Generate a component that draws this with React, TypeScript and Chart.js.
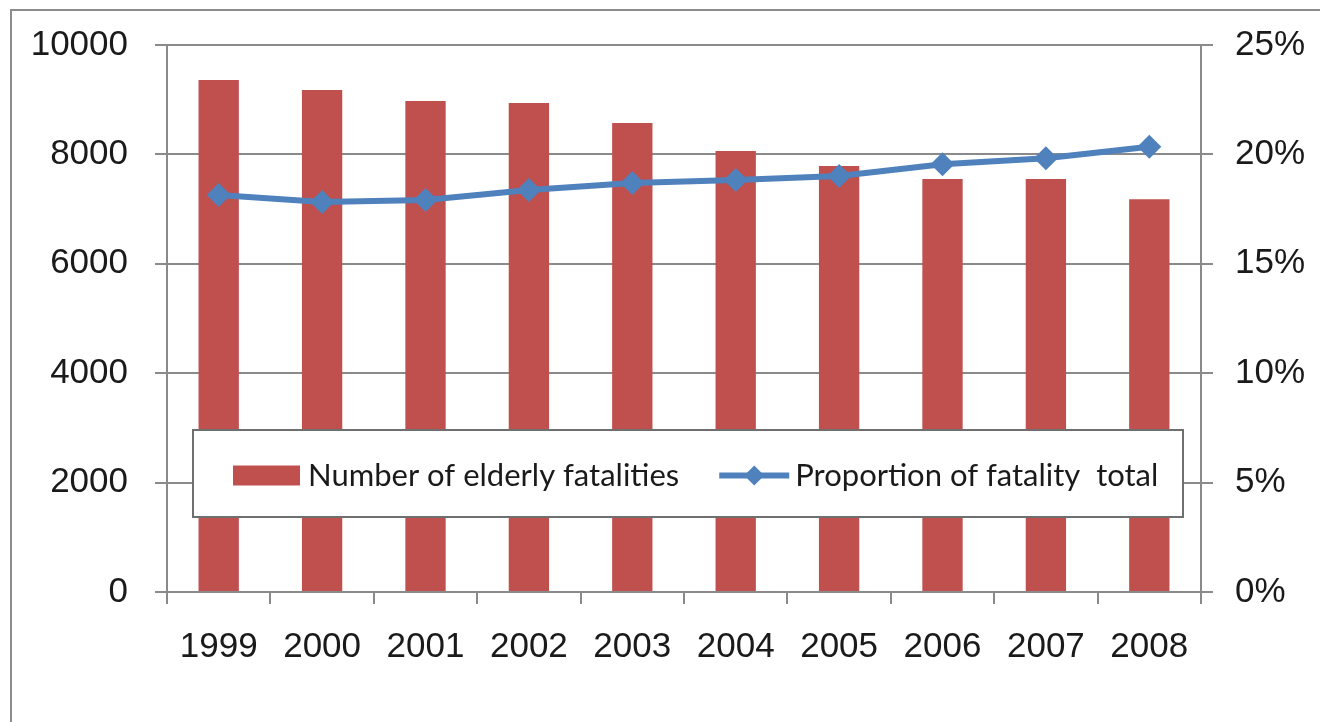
import React, { useEffect, useRef } from 'react';
import { Chart, registerables } from 'chart.js';

Chart.register(...registerables);

const years = ['1999', '2000', '2001', '2002', '2003', '2004', '2005', '2006', '2007', '2008'];
const elderlyFatalities = [9360, 9177, 8976, 8940, 8574, 8062, 7788, 7550, 7550, 7179];
const fatalityProportion = [18.14, 17.82, 17.92, 18.37, 18.69, 18.83, 19.01, 19.55, 19.82, 20.35];
const barLabel = 'Number of elderly fatalities';
const lineLabel = 'Proportion of fatality  total';

const BAR_COLOR = '#C0504D';
const LINE_COLOR = '#4F81BD';
const GRID_COLOR = '#8a8a8a';
const TEXT_COLOR = '#1a1a1a';
const AXIS_FONT = "'Liberation Sans', Arial, sans-serif";
const LEGEND_FONT = "Lato, 'Liberation Sans', sans-serif";

const boxLegend = {
  id: 'boxLegend',
  afterDraw(chart: any) {
    const { ctx, chartArea: a } = chart;
    const x0 = a.left + 26;
    const x1 = a.right - 18;
    const y0 = a.top + 385;
    const y1 = a.top + 472;
    ctx.save();
    ctx.fillStyle = '#ffffff';
    ctx.fillRect(x0, y0, x1 - x0, y1 - y0);
    ctx.strokeStyle = '#6f6f6f';
    ctx.lineWidth = 2;
    ctx.strokeRect(x0, y0, x1 - x0, y1 - y0);
    const cy = (y0 + y1) / 2 + 2;
    ctx.font = `31px ${LEGEND_FONT}`;
    ctx.textBaseline = 'middle';
    ctx.textAlign = 'left';
    let x = x0 + 40;
    ctx.fillStyle = BAR_COLOR;
    ctx.fillRect(x, cy - 10, 67, 20);
    x += 75;
    ctx.fillStyle = TEXT_COLOR;
    ctx.fillText(barLabel, x, cy);
    x += ctx.measureText(barLabel).width + 40;
    ctx.strokeStyle = LINE_COLOR;
    ctx.lineWidth = 6;
    ctx.beginPath();
    ctx.moveTo(x, cy);
    ctx.lineTo(x + 70, cy);
    ctx.stroke();
    ctx.fillStyle = LINE_COLOR;
    const dx = x + 35;
    ctx.beginPath();
    ctx.moveTo(dx, cy - 10);
    ctx.lineTo(dx + 10, cy);
    ctx.lineTo(dx, cy + 10);
    ctx.lineTo(dx - 10, cy);
    ctx.closePath();
    ctx.fill();
    x += 76;
    ctx.fillStyle = TEXT_COLOR;
    ctx.fillText(lineLabel, x, cy);
    ctx.restore();
  },
};

const noScalePadding = (s: any) => {
  s.paddingTop = 0;
  s.paddingBottom = 0;
};

export default function App() {
  const canvasRef = useRef<HTMLCanvasElement | null>(null);

  useEffect(() => {
    const canvas = canvasRef.current;
    if (!canvas) return;
    const chart = new Chart(canvas, {
      type: 'bar',
      data: {
        labels: years,
        datasets: [
          {
            type: 'line',
            label: lineLabel,
            data: fatalityProportion,
            yAxisID: 'y1',
            borderColor: LINE_COLOR,
            backgroundColor: LINE_COLOR,
            borderWidth: 6,
            pointStyle: 'rectRot',
            pointRadius: 12,
            pointBorderWidth: 0,
            pointBackgroundColor: LINE_COLOR,
            tension: 0,
            order: 0,
          } as any,
          {
            type: 'bar',
            label: barLabel,
            data: elderlyFatalities,
            yAxisID: 'y',
            backgroundColor: BAR_COLOR,
            borderWidth: 0,
            categoryPercentage: 1,
            barPercentage: 0.39,
            order: 1,
          },
        ],
      },
      options: {
        responsive: false,
        devicePixelRatio: 1,
        animation: false,
        layout: { padding: { top: 37, left: 0, right: 0, bottom: 0 } },
        plugins: {
          legend: { display: false },
          tooltip: { enabled: false },
          title: { display: false },
        },
        scales: {
          x: {
            grid: {
              drawOnChartArea: false,
              drawTicks: true,
              tickLength: 12,
              color: GRID_COLOR,
              lineWidth: 2,
              offset: true,
            },
            border: { color: GRID_COLOR, width: 2 },
            ticks: {
              color: TEXT_COLOR,
              font: { size: 35, family: AXIS_FONT },
              padding: 22,
              maxRotation: 0,
              autoSkip: false,
            },
            afterFit: (s: any) => {
              s.height = 122;
              s.paddingLeft = 0;
              s.paddingRight = 0;
            },
          },
          y: {
            position: 'left',
            min: 0,
            max: 10000,
            grid: {
              color: GRID_COLOR,
              lineWidth: 2,
              tickLength: 12,
              drawTicks: true,
            },
            border: { color: GRID_COLOR, width: 2 },
            ticks: {
              stepSize: 2000,
              color: TEXT_COLOR,
              font: { size: 35, family: AXIS_FONT },
              padding: 27,
              callback: (v: any) => `${v}`,
            },
            afterFit: (s: any) => {
              s.width = 159;
              noScalePadding(s);
            },
          },
          y1: {
            position: 'right',
            min: 0,
            max: 25,
            grid: {
              drawOnChartArea: false,
              color: GRID_COLOR,
              lineWidth: 2,
              tickLength: 12,
              drawTicks: true,
            },
            border: { color: GRID_COLOR, width: 2 },
            ticks: {
              stepSize: 5,
              color: TEXT_COLOR,
              font: { size: 35, family: AXIS_FONT },
              padding: 22,
              callback: (v: any) => `${v}%`,
            },
            afterFit: (s: any) => {
              s.width = 111;
              noScalePadding(s);
            },
          },
        },
      },
      plugins: [boxLegend],
    } as any);
    return () => chart.destroy();
  }, []);

  return (
    <div style={{ position: 'relative', width: 1304, height: 706, background: '#fff' }}>
      <div
        style={{
          position: 'fixed',
          left: 10,
          top: 9,
          width: 3000,
          height: 3000,
          borderTop: '2px solid #8c8c8c',
          borderLeft: '2px solid #8c8c8c',
          pointerEvents: 'none',
        }}
      />
      <canvas
        ref={canvasRef}
        width={1304}
        height={706}
        style={{ position: 'absolute', left: 0, top: 0, width: 1304, height: 706 }}
      />
    </div>
  );
}
